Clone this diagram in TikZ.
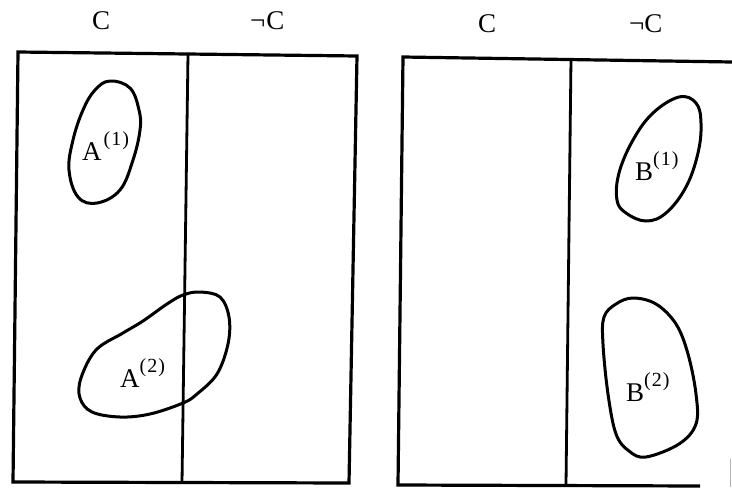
\documentclass[tikz,border=0pt]{standalone}
\usepackage{fontspec}
\setmainfont{Liberation Serif}
\newcommand\parensup[1]{\raisebox{15pt}{\fontsize{20}{20}\selectfont(\kern1pt#1\kern1pt)}}
\begin{document}
\begin{tikzpicture}[x=1pt,y=-1pt,
  frame/.style={line width=3.2pt, line join=miter},
  divider/.style={line width=2.8pt},
  blob/.style={line width=3pt, line join=round},
  lab/.style={inner sep=0pt, anchor=base west, font=\fontsize{27}{27}\selectfont},
]
\useasboundingbox (0,0) rectangle (732,488);
% left box
\coordinate (l1) at (18,52);
\coordinate (l2) at (357,56);
\coordinate (l3) at (349,483);
\coordinate (l4) at (13,482);
\coordinate (ldt) at (188,54);
\coordinate (ldb) at (182,483);
\draw[frame] (l1) -- (l2) -- (l3) -- (l4) -- cycle;
\draw[divider] (ldt) -- (ldb);
% right box
\coordinate (r1) at (732,62);
\coordinate (r2) at (403,57);
\coordinate (r3) at (398,485);
\coordinate (r4) at (700,486);
\coordinate (rdt) at (571,59);
\coordinate (rdb) at (566,485);
\coordinate (rf1) at (730,459);
\coordinate (rf2) at (730,487);
\draw[frame] (r1) -- (r2) -- (r3) -- (r4);
\draw[divider] (rdt) -- (rdb);
\draw[line width=1pt, gray!60] (rf1) -- (rf2);
% column labels
\node[lab] (c1) at (92,29) {C};
\node[lab] (nc1) at (250,29) {¬\kern1pt C};
\node[lab] (c2) at (478,32) {C};
\node[lab] (nc2) at (629,32) {¬\kern0pt C};
% blobs
\draw[blob] plot[smooth cycle, tension=0.65] coordinates {
 (110,81) (130,88) (139,110) (140,130) (133,160) (120,190) (97,203)
 (78,197) (69,170) (73,140) (83,110) (95,90)};
\draw[blob] plot[smooth cycle, tension=0.6] coordinates {
 (200,292) (220,297) (229,317) (228,344) (217,374) (197,394) (183,403)
 (150,414) (120,417) (92,412) (80,398) (81,378) (96,350) (123,333)
 (143,321) (167,304) (183,295)};
\draw[blob] plot[smooth cycle, tension=0.65] coordinates {
 (679,97) (696,103) (701,123) (698,153) (686,187) (666,213) (646,221)
 (626,213) (617,200) (619,173) (633,140) (653,113)};
\draw[blob] plot[smooth cycle, tension=0.6] coordinates {
 (633,298) (656,304) (676,324) (688,354) (696,394) (696,424) (679,444)
 (646,457) (629,451) (616,434) (608,394) (603,344) (604,317) (616,304)};
% blob labels
\node[lab] (a1) at (82,160) {A\kern2pt\parensup{1}};
\node[lab] (a2) at (120,387) {A\parensup{2}};
\node[lab] (b1) at (635,180) {B\parensup{1}};
\node[lab] (b2) at (626,401) {B\parensup{2}};
\end{tikzpicture}
\end{document}
